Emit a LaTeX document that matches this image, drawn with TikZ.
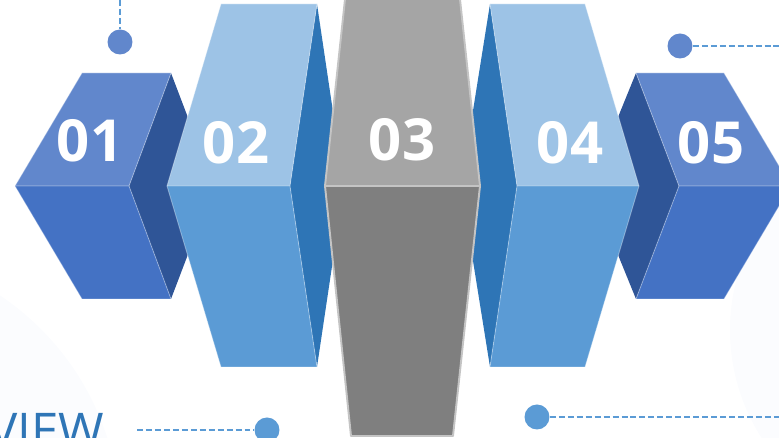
\documentclass[tikz,border=0pt]{standalone}
\usepackage{fontspec}
\setmainfont{Open Sans}
\definecolor{topA}{RGB}{97,135,204}
\definecolor{botA}{RGB}{68,114,196}
\definecolor{sideA}{RGB}{47,85,151}
\definecolor{topB}{RGB}{157,195,230}
\definecolor{botB}{RGB}{91,155,213}
\definecolor{sideB}{RGB}{46,117,182}
\definecolor{topC}{RGB}{165,165,165}
\definecolor{botC}{RGB}{127,127,127}
\definecolor{rimC}{RGB}{196,196,196}
\definecolor{tint}{RGB}{251,252,254}
\tikzset{
  face/.style={draw=white,draw opacity=0.35,line width=0.5pt,line join=round},
  grayface/.style={draw=rimC,line width=1.1pt,line join=round},
  dot/.style={circle,inner sep=0pt,minimum size=0.5cm},
  lead/.style={draw=botB,dash pattern=on 3.4pt off 1.7pt,line width=0.6pt},
  num/.style={text=white,font=\fontsize{33}{33}\selectfont\bfseries}
}
\begin{document}
\begin{tikzpicture}[x=0.02cm,y=-0.02cm]
\useasboundingbox (0,0) rectangle (779,438);
\clip (0,0) rectangle (779,438);
% soft background
\fill[tint] (-150,520) circle (270);
\fill[tint] (930,330) circle (200);
% block 01
\fill[sideA] (171,73) -- (214,186) -- (171,299) -- (129,186) -- cycle;
\filldraw[face,fill=topA] (82,73) -- (171,73) -- (129,186) -- (15,186) -- cycle;
\filldraw[face,fill=botA] (15,186) -- (129,186) -- (171,299) -- (82,299) -- cycle;
% block 05
\fill[sideA] (636,73) -- (679,186) -- (636,299) -- (590,186) -- cycle;
\filldraw[face,fill=topA] (636,73) -- (724,73) -- (791,186) -- (679,186) -- cycle;
\filldraw[face,fill=botA] (679,186) -- (791,186) -- (724,299) -- (636,299) -- cycle;
% block 02
\fill[sideB] (317,4) -- (344,186) -- (317,367) -- (290,186) -- cycle;
\filldraw[face,fill=topB] (221,4) -- (317,4) -- (290,186) -- (167,186) -- cycle;
\filldraw[face,fill=botB] (167,186) -- (290,186) -- (317,367) -- (221,367) -- cycle;
% block 04
\fill[sideB] (490,4) -- (517,186) -- (490,367) -- (461,186) -- cycle;
\filldraw[face,fill=topB] (490,4) -- (585,4) -- (639,186) -- (517,186) -- cycle;
\filldraw[face,fill=botB] (517,186) -- (639,186) -- (585,367) -- (490,367) -- cycle;
% block 03
\filldraw[grayface,fill=topC] (346,-10) -- (459,-10) -- (480,186) -- (325,186) -- cycle;
\filldraw[grayface,fill=botC] (325,186) -- (480,186) -- (453,436) -- (351,436) -- cycle;
% numbers
\node[num] (n01) at (90,141) {01};
\node[num] (n02) at (236,143) {02};
\node[num] (n03) at (402,140) {03};
\node[num] (n04) at (570,143) {04};
\node[num] (n05) at (711,143) {05};
% leader dots
\node[dot,fill=topA] (d1) at (120,42) {};
\node[dot,fill=topA] (d2) at (680,46) {};
\node[dot,fill=botB] (d3) at (267,430) {};
\node[dot,fill=botB] (d4) at (537,417) {};
\coordinate (e1) at (120,0);
\coordinate (e2) at (779,46);
\coordinate (e3) at (137,430);
\coordinate (e4) at (779,417);
\draw[lead] (e1) -- (d1);
\draw[lead] (d2) -- (e2);
\draw[lead] (e3) -- (d3);
\draw[lead] (d4) -- (e4);
% title
\node[anchor=north west,inner sep=0pt,text=sideB,font=\fontsize{28}{28}\selectfont] (title) at (-12,413) {VIEW};
\end{tikzpicture}
\end{document}
